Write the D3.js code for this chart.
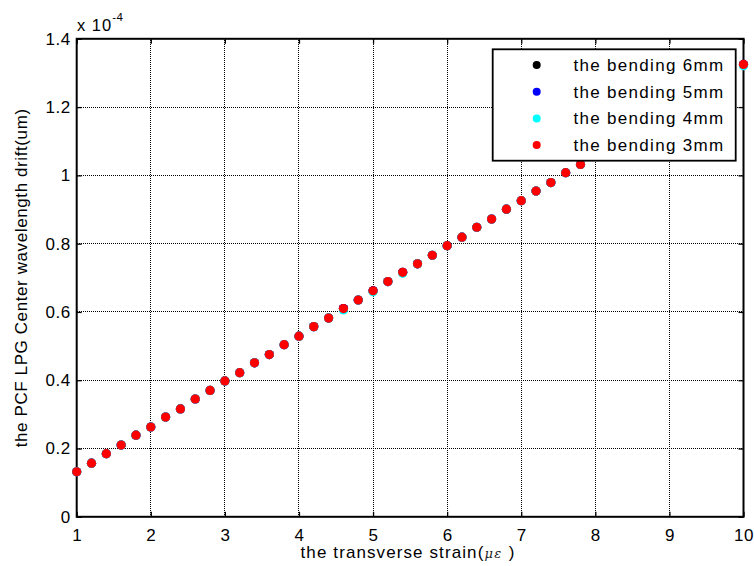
<!DOCTYPE html>
<html lang="en">
<head>
    <meta charset="UTF-8">
    <title>PCF LPG wavelength drift</title>
    <script src="https://d3js.org/d3.v7.min.js"></script>
    <style>
        body { margin: 0; background: #fff; }
        svg { display: block; font-family: "Liberation Sans", Arial, sans-serif; }
        .tick-label { font-size: 17px; fill: #000; letter-spacing: 0.5px; }
        .grid line { stroke: #000; stroke-width: 1; stroke-dasharray: 1,1; shape-rendering: crispEdges; }
    </style>
</head>
<body>
    <svg id="chart"></svg>
    <script>
        // strain values (x axis)
        const strain = [1, 1.2, 1.4, 1.6, 1.8, 2, 2.2, 2.4, 2.6, 2.8, 3, 3.2, 3.4, 3.6, 3.8,
            4, 4.2, 4.4, 4.6, 4.8, 5, 5.2, 5.4, 5.6, 5.8, 6, 6.2, 6.4, 6.6, 6.8,
            7, 7.2, 7.4, 7.6, 7.8, 10];

        // wavelength drift, units of 1e-4 um
        const bend3mm = [0.132, 0.157, 0.185, 0.210, 0.239, 0.263, 0.292, 0.316, 0.345, 0.370,
            0.398, 0.422, 0.451, 0.475, 0.504, 0.529, 0.557, 0.582, 0.610, 0.635,
            0.662, 0.689, 0.716, 0.741, 0.766, 0.794, 0.819, 0.848, 0.872, 0.901,
            0.926, 0.954, 0.979, 1.008, 1.032, 1.325];
        const bend4mm = [0.132, 0.157, 0.185, 0.210, 0.239, 0.263, 0.292, 0.316, 0.345, 0.370,
            0.398, 0.422, 0.451, 0.475, 0.504, 0.529, 0.557, 0.582, 0.606, 0.635,
            0.659, 0.689, 0.713, 0.741, 0.766, 0.794, 0.819, 0.848, 0.872, 0.901,
            0.926, 0.954, 0.979, 1.008, 1.032, 1.321];
        const bend5mm = bend3mm.slice();
        const bend6mm = bend3mm.slice();

        const seriesNames = ["the bending 6mm", "the bending 5mm", "the bending 4mm", "the bending 3mm"];
        const seriesColors = ["#000000", "#0000ff", "#00ffff", "#ff0000"];
        const seriesValues = [bend6mm, bend5mm, bend4mm, bend3mm];

        const xTicks = [1, 2, 3, 4, 5, 6, 7, 8, 9, 10];
        const yTicks = [0, 0.2, 0.4, 0.6, 0.8, 1, 1.2, 1.4];

        const width = 754, height = 566;
        const svg = d3.select("#chart").attr("width", width).attr("height", height);

        const x = d3.scaleLinear().domain([1, 10]).range([76.7, 743.5]);
        const y = d3.scaleLinear().domain([0, 1.4]).range([516.8, 38.8]);

        // grid
        const grid = svg.append("g").attr("class", "grid");
        grid.selectAll(".gx").data(xTicks.slice(1, -1)).enter().append("line")
            .attr("x1", d => x(d)).attr("x2", d => x(d))
            .attr("y1", y(0)).attr("y2", y(1.4));
        grid.selectAll(".gy").data(yTicks.slice(1, -1)).enter().append("line")
            .attr("x1", x(1)).attr("x2", x(10))
            .attr("y1", d => y(d)).attr("y2", d => y(d));

        // axes (ticks inside, all four sides)
        const tickLen = 5;
        svg.append("g").attr("transform", `translate(0,${y(0)})`)
            .call(d3.axisBottom(x).tickValues(xTicks).tickSize(-tickLen).tickPadding(12).tickFormat(d3.format("d")))
            .call(g => g.select(".domain").remove());
        svg.append("g").attr("transform", `translate(0,${y(1.4)})`)
            .call(d3.axisTop(x).tickValues(xTicks).tickSize(-tickLen).tickFormat(""))
            .call(g => g.select(".domain").remove());
        svg.append("g").attr("transform", `translate(${x(1)},0)`)
            .call(d3.axisLeft(y).tickValues(yTicks).tickSize(-tickLen).tickPadding(6).tickFormat(d => d3.format("")(+d.toFixed(1))))
            .call(g => g.select(".domain").remove());
        svg.append("g").attr("transform", `translate(${x(10)},0)`)
            .call(d3.axisRight(y).tickValues(yTicks).tickSize(-tickLen).tickFormat(""))
            .call(g => g.select(".domain").remove());

        svg.selectAll(".tick text").attr("class", "tick-label")
            .attr("font-size", null).attr("font-family", null);
        svg.selectAll(".tick line").attr("stroke", "#000").attr("stroke-width", 1.3);

        svg.append("rect")
            .attr("x", x(1)).attr("y", y(1.4))
            .attr("width", x(10) - x(1)).attr("height", y(0) - y(1.4))
            .attr("fill", "none").attr("stroke", "#000").attr("stroke-width", 2);

        // points
        seriesValues.forEach((vals, i) => {
            svg.append("g").selectAll("circle")
                .data(vals.map((v, j) => [strain[j], v]))
                .enter().append("circle")
                .attr("cx", d => x(d[0])).attr("cy", d => y(d[1]))
                .attr("r", 4.6)
                .attr("fill", seriesColors[i]);
        });

        // exponent
        const expo = svg.append("text").attr("x", 77).attr("y", 31)
            .attr("font-size", 16.5).attr("letter-spacing", 1);
        expo.append("tspan").text("x 10");
        expo.append("tspan").attr("dy", -10).attr("font-size", 11.5).attr("letter-spacing", 0.5).text("-4");

        // legend
        const lg = svg.append("g");
        lg.append("rect").attr("x", 492.7).attr("y", 49.3).attr("width", 243).attr("height", 111.4)
            .attr("fill", "#fff").attr("stroke", "#000").attr("stroke-width", 1.8);
        seriesNames.forEach((name, i) => {
            const cy = 65 + i * 26.7;
            lg.append("circle").attr("cx", 536.7).attr("cy", cy).attr("r", 4).attr("fill", seriesColors[i]);
            lg.append("text").attr("x", 573.5).attr("y", cy + 6).attr("font-size", 17)
                .attr("letter-spacing", 1.3).text(name);
        });

        // axis labels
        const xl = svg.append("text").attr("x", 408).attr("y", 558).attr("font-size", 17)
            .attr("text-anchor", "middle").attr("letter-spacing", 1.1);
        xl.append("tspan").text("the transverse strain(");
        xl.append("tspan").attr("font-size", 13).attr("font-style", "italic").attr("letter-spacing", 1.5)
            .attr("font-family", "'DejaVu Serif', serif").attr("fill", "#222").text("\u03bc\u03b5");
        xl.append("tspan").text(" )");

        svg.append("text")
            .attr("transform", `translate(27,${(y(0) + y(1.4)) / 2}) rotate(-90)`)
            .attr("text-anchor", "middle").attr("font-size", 17).attr("letter-spacing", 0.6)
            .text("the PCF LPG Center wavelength drift(um)");
    </script>
</body>
</html>
